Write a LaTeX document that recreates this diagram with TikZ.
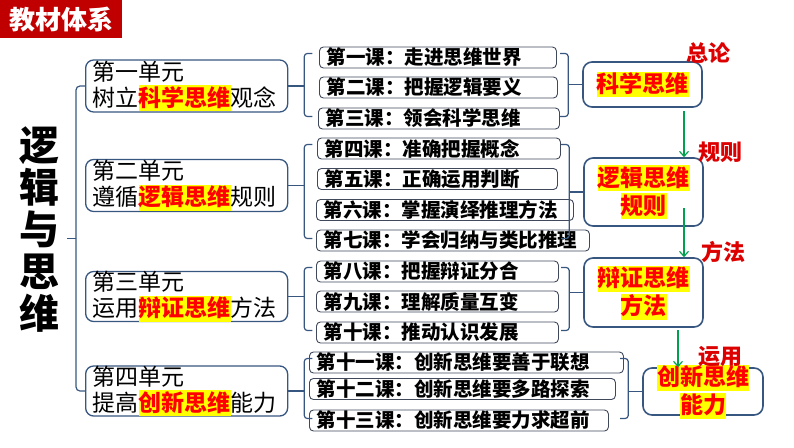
\documentclass[tikz,border=0pt]{standalone}
\usepackage{fontspec}
\setmainfont{Noto Sans CJK SC}
\usetikzlibrary{positioning,arrows.meta,calc}
\definecolor{TitleRed}{RGB}{192,0,0}
\definecolor{FrameBlue}{RGB}{56,87,128}
\definecolor{LessonLine}{RGB}{64,72,92}
\definecolor{MarkYellow}{RGB}{255,255,0}
\definecolor{MarkRed}{RGB}{255,0,0}
\definecolor{NoteRed}{RGB}{220,0,0}
\definecolor{FlowGreen}{RGB}{0,160,80}
\newcommand{\hlword}[1]{{\setlength{\fboxsep}{0pt}\colorbox{MarkYellow}{\rule[-0.2em]{0pt}{1.13em}\textcolor{MarkRed}{\bfseries #1}}}}
\tikzset{
  brace/.style={draw=FrameBlue,line width=1.2pt,rounded corners=3pt},
  flow/.style={-{Straight Barb[length=5pt,width=9pt]},line width=1.2pt,draw=FlowGreen},
  unitbox/.style={draw=FrameBlue,line width=1.3pt,fill=white,rounded corners=8pt,anchor=west,
    minimum height=52pt,inner xsep=7pt,inner ysep=0pt,text width=188pt,align=left,
    font={\fontsize{23}{26}\selectfont}},
  lessonbox/.style={draw=LessonLine,line width=0.9pt,fill=white,rounded corners=4pt,anchor=west,
    minimum height=21pt,inner xsep=7.5pt,inner ysep=0pt,align=left,
    font={\fontsize{19.5}{21}\selectfont\bfseries}},
  sumbox/.style={draw=FrameBlue,line width=1.6pt,fill=white,rounded corners=9pt,
    minimum width=119pt,inner ysep=0pt,align=center,font={\fontsize{23}{28}\selectfont}},
  note/.style={text=NoteRed,font={\fontsize{22}{24}\selectfont\bfseries}}
}

\begin{document}
\begin{tikzpicture}[x=1pt,y=-1pt]
  \useasboundingbox (0,0) rectangle (794,447);

  % title and topic
  \node[fill=TitleRed,text=white,anchor=north west,inner sep=0pt,minimum width=122pt,
    minimum height=38pt,font={\fontsize{26}{28}\selectfont\bfseries}] (title) at (0,0) {教材体系};
  \node[align=center,inner sep=0pt,font={\fontsize{40}{42}\selectfont\bfseries}] (topic) at (39,230)
    {逻\\辑\\与\\思\\维};

  % units
  \node[unitbox] (u1) at (85,86) {第一单元\\树立\hlword{科学思维}观念};
  \node[unitbox] (u2) at (85,185.5) {第二单元\\遵循\hlword{逻辑思维}规则};
  \node[unitbox,minimum height=49pt] (u3) at (85,296.5) {第三单元\\运用\hlword{辩证思维}方法};
  \node[unitbox,minimum height=50pt] (u4) at (85,391) {第四单元\\提高\hlword{创新思维}能力};

  % lessons
  \foreach \n/\x/\y/\w/\txt in {
    l1/319/57.5/222/第一课：走进思维世界,
    l2/319/87.5/223/第二课：把握逻辑要义,
    l3/318/118.5/226/第三课：领会科学思维,
    l4/317/148.5/228/第四课：准确把握概念,
    l5/317/179/225/第五课：正确运用判断,
    l6/316/210/242/第六课：掌握演绎推理方法,
    l7/316/240.5/258/第七课：学会归纳与类比推理,
    l8/316/271.5/227/第八课：把握辩证分合,
    l9/316/301.5/227/第九课：理解质量互变,
    l10/316/332.5/227/第十课：推动认识发展,
    l11/309/362.5/299/第十一课：创新思维要善于联想,
    l12/309/389/291/第十二课：创新思维要多路探索,
    l13/309/420.5/284/第十三课：创新思维要力求超前}
    \node[lessonbox,text width=\w pt] (\n) at (\x,\y) {\txt};

  % summaries
  \node[sumbox,minimum height=45pt] (s1) at (642.5,84.5) {\hlword{科学思维}};
  \node[sumbox,minimum height=68pt] (s2) at (643.5,192) {\hlword{逻辑思维}\\\hlword{规则}};
  \node[sumbox,minimum height=69pt] (s3) at (643.5,292.5) {\hlword{辩证思维}\\\hlword{方法}};
  \node[sumbox,minimum width=120pt,minimum height=47pt,inner ysep=-3.5pt] (s4) at (703,391.5)
    {\hlword{创新思维}\\\hlword{能力}};

  \node[note] (n1) at (708,53) {总论};
  \node[note] (n2) at (720,152) {规则};
  \node[note] (n3) at (723,252) {方法};
  \node[note] (n4) at (720,357) {运用};

  % braces
  \draw[brace,rounded corners=4pt] (u1.west) -- ++(-9,0) |- (u4.west);
  \draw[brace] ($(u1.west)!0.5!(u4.west)+(-9,0)$) -- ++(-9,0);
  \foreach \u/\a/\b in {u1/l1/l3,u2/l4/l7,u3/l8/l10,u4/l11/l13} {
    \draw[brace] (\u.east) -- ++(16,0);
    \draw[brace] ($(\a.west -| \u.east)+(24,-4)$) -- ++(-8,0)
      -- ($(\b.west -| \u.east)+(16,-2)$) -- ++(8,0);
  }
  \foreach \s/\a/\b in {s1/l1/l3,s2/l4/l7,s3/l8/l10,s4/l11/l13} {
    \draw[brace] (\s.west) -- ++(-14,0);
    \draw[brace] ($(\a.west -| \s.west)+(-22,-4)$) -- ++(8,0)
      -- ($(\b.west -| \s.west)+(-14,-2)$) -- ++(-8,0);
  }

  % flow
  \draw[flow] ([xshift=41.5pt,yshift=-3pt]s1.south) -- ([xshift=40.5pt]s2.north);
  \draw[flow] ([xshift=40.5pt,yshift=-16pt]s2.center) -- ([xshift=40.5pt]s3.north);
  \draw[flow] ([xshift=34.5pt,yshift=-2pt]s3.south) -- ([xshift=-25pt]s4.north);
\end{tikzpicture}
\end{document}
